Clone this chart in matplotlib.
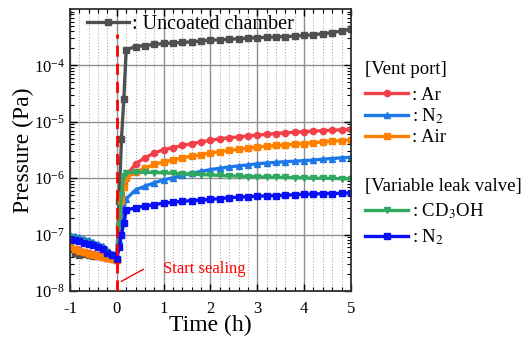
import matplotlib.pyplot as plt

plt.rcParams['font.family'] = 'Liberation Serif'
plt.rcParams['mathtext.fontset'] = 'stix'
plt.rcParams['axes.unicode_minus'] = False

# time axis (h): pre-sealing, fast rise after sealing, slow rise
time_h = [-1.0, -0.9, -0.8, -0.7, -0.6, -0.5, -0.4, -0.3, -0.2, -0.1, 0.0,
          0.05, 0.1, 0.15,
          0.2, 0.4, 0.6, 0.8, 1.0, 1.2, 1.4, 1.6, 1.8, 2.0, 2.2, 2.4, 2.6,
          2.8, 3.0, 3.2, 3.4, 3.6, 3.8, 4.0, 4.2, 4.4, 4.6, 4.8, 5.0]

uncoated = [5.8e-8, 4.8e-8, 4.4e-8, 4.6e-8, 4.3e-8, 4.2e-8, 4.1e-8, 4.0e-8, 3.9e-8, 3.8e-8, 3.6e-8,
            4e-7, 5e-6, 2.5e-5,
            1.9e-4, 2.15e-4, 2.25e-4, 2.35e-4, 2.45e-4, 2.5e-4, 2.55e-4, 2.62e-4, 2.7e-4, 2.8e-4,
            2.85e-4, 2.9e-4, 2.97e-4, 3.03e-4, 3.1e-4, 3.15e-4, 3.2e-4, 3.25e-4, 3.3e-4, 3.4e-4,
            3.5e-4, 3.65e-4, 3.8e-4, 4.1e-4, 4.4e-4]

vent_ar = [6e-8, 5.6e-8, 5.3e-8, 5e-8, 4.7e-8, 4.5e-8, 4.3e-8, 4.1e-8, 3.9e-8, 3.7e-8, 3.6e-8,
           1.5e-7, 5e-7, 8e-7,
           1.1e-6, 1.8e-6, 2.3e-6, 2.8e-6, 3.2e-6, 3.5e-6, 3.8e-6, 4.1e-6, 4.4e-6, 4.7e-6,
           5.0e-6, 5.2e-6, 5.4e-6, 5.6e-6, 5.8e-6, 6.0e-6, 6.2e-6, 6.4e-6, 6.5e-6, 6.7e-6,
           6.8e-6, 7.0e-6, 7.1e-6, 7.2e-6, 7.4e-6]

vent_n2 = [1.0e-7, 9.5e-8, 9e-8, 8.5e-8, 8e-8, 7.3e-8, 6.8e-8, 6.2e-8, 5.3e-8, 4.6e-8, 3.8e-8,
           8e-8, 1.8e-7, 3e-7,
           4.3e-7, 6.2e-7, 7.2e-7, 8.3e-7, 9.3e-7, 1.02e-6, 1.12e-6, 1.22e-6, 1.32e-6, 1.42e-6,
           1.5e-6, 1.58e-6, 1.65e-6, 1.72e-6, 1.8e-6, 1.86e-6, 1.91e-6, 1.96e-6, 2.0e-6, 2.05e-6,
           2.1e-6, 2.17e-6, 2.23e-6, 2.3e-6, 2.35e-6]

vent_air = [6.1e-8, 5.6e-8, 5.2e-8, 4.9e-8, 4.6e-8, 4.35e-8, 4.2e-8, 4.0e-8, 3.8e-8, 3.7e-8, 3.6e-8,
            1.3e-7, 4e-7, 7e-7,
            1.0e-6, 1.3e-6, 1.5e-6, 1.75e-6, 1.95e-6, 2.1e-6, 2.3e-6, 2.45e-6, 2.6e-6, 2.8e-6,
            2.95e-6, 3.1e-6, 3.25e-6, 3.4e-6, 3.55e-6, 3.7e-6, 3.8e-6, 3.9e-6, 4.0e-6, 4.1e-6,
            4.25e-6, 4.4e-6, 4.5e-6, 4.65e-6, 4.75e-6]

leak_cd3oh = [9e-8, 8.5e-8, 8e-8, 7.5e-8, 7e-8, 6.5e-8, 6e-8, 5.5e-8, 5e-8, 4.3e-8, 3.7e-8,
              1.4e-7, 5e-7, 1.1e-6,
              1.25e-6, 1.27e-6, 1.27e-6, 1.26e-6, 1.25e-6, 1.22e-6, 1.2e-6, 1.18e-6, 1.16e-6, 1.14e-6,
              1.12e-6, 1.1e-6, 1.09e-6, 1.07e-6, 1.06e-6, 1.05e-6, 1.04e-6, 1.03e-6, 1.02e-6, 1.01e-6,
              1.0e-6, 1.0e-6, 0.99e-6, 0.98e-6, 0.97e-6]

leak_n2 = [8.5e-8, 8e-8, 7.6e-8, 7.2e-8, 6.8e-8, 6.5e-8, 6e-8, 5.5e-8, 4.8e-8, 4.3e-8, 3.7e-8,
           6e-8, 1e-7, 1.6e-7,
           2.7e-7, 3.0e-7, 3.2e-7, 3.4e-7, 3.6e-7, 3.75e-7, 3.9e-7, 4.0e-7, 4.1e-7, 4.2e-7,
           4.35e-7, 4.5e-7, 4.6e-7, 4.7e-7, 4.8e-7, 4.85e-7, 4.9e-7, 5.0e-7, 5.1e-7, 5.2e-7,
           5.25e-7, 5.3e-7, 5.35e-7, 5.4e-7, 5.5e-7]

fig = plt.figure(figsize=(5.29, 3.37), dpi=100)
ax = fig.add_axes([0.1323, 0.1365, 0.531, 0.8368])

lw = 2.4
ms = 4.5
l_gray, = ax.plot(time_h, uncoated, color='#505050', lw=lw, marker='s', ms=ms)
l_ar, = ax.plot(time_h, vent_ar, color='#f2404a', lw=lw, marker='o', ms=ms)
l_vn2, = ax.plot(time_h, vent_n2, color='#1f78e8', lw=lw, marker='^', ms=ms)
l_air, = ax.plot(time_h, vent_air, color='#ff8000', lw=lw, marker='s', ms=ms)
l_cd, = ax.plot(time_h, leak_cd3oh, color='#30a860', lw=lw, marker='v', ms=ms)
l_ln2, = ax.plot(time_h, leak_n2, color='#0a10f5', lw=lw, marker='s', ms=ms)

ax.axvline(0, ymax=0.91, color='red', lw=2, ls=(0, (4, 2.5)), zorder=5)

ax.set_yscale('log')
ax.set_xlim(-1, 5)
ax.set_ylim(1e-8, 1e-3)
ax.set_xticks([-1, 0, 1, 2, 3, 4, 5])
ax.set_xticks([i / 5 - 1 for i in range(31)], minor=True)
ax.set_yticks([1e-8, 1e-7, 1e-6, 1e-5, 1e-4])
ax.grid(True, which='major', color='#909090', lw=1)
ax.grid(True, which='minor', axis='x', color='#b0b0b0', lw=0.8, ls=':')
ax.tick_params(which='both', direction='in', top=True, right=True, labelsize=12)
ax.tick_params(which='major', length=5, width=1)
ax.tick_params(which='minor', length=3, width=0.8)
ax.tick_params(axis='x', pad=7)
for s in ax.spines.values():
    s.set_linewidth(1.3)
    s.set_color('#303030')

ax.set_xlabel('Time (h)', fontsize=17, labelpad=-1)
ax.set_ylabel('Pressure (Pa)', fontsize=17, labelpad=0)

# start sealing note
ax.annotate('', xy=(0.04, 1.4e-8), xytext=(0.62, 2.56e-8),
            arrowprops=dict(arrowstyle='-', color='red', lw=1))
ax.text(0.98, 2.5e-8, 'Start sealing', color='red', fontsize=12, va='center')

ax.legend([l_gray], [': Uncoated chamber'], loc='upper left', fontsize=14.5,
          frameon=False, handlelength=2.1, handletextpad=0.15,
          bbox_to_anchor=(0.06, 0.98), borderaxespad=0, borderpad=0)

# legend groups outside the axes
fig.text(0.69, 1 - 70 / 337, '[Vent port]', fontsize=13.5, va='center')
fig.legend([l_ar, l_vn2, l_air], [': Ar', ': N$_2$', ': Air'],
           loc='center left', bbox_to_anchor=(0.69, 1 - 116.5 / 337),
           frameon=False, fontsize=13.5, handlelength=2.3, handletextpad=0.2,
           labelspacing=0.15, borderaxespad=0, borderpad=0)
fig.text(0.69, 1 - 186 / 337, '[Variable leak valve]', fontsize=13.5, va='center')
fig.legend([l_cd, l_ln2], [': CD$_3$OH', ': N$_2$'],
           loc='center left', bbox_to_anchor=(0.69, 1 - 224.5 / 337),
           frameon=False, fontsize=13.5, handlelength=2.3, handletextpad=0.2,
           labelspacing=0.35, borderaxespad=0, borderpad=0)

fig.savefig('out.png', dpi=100)
